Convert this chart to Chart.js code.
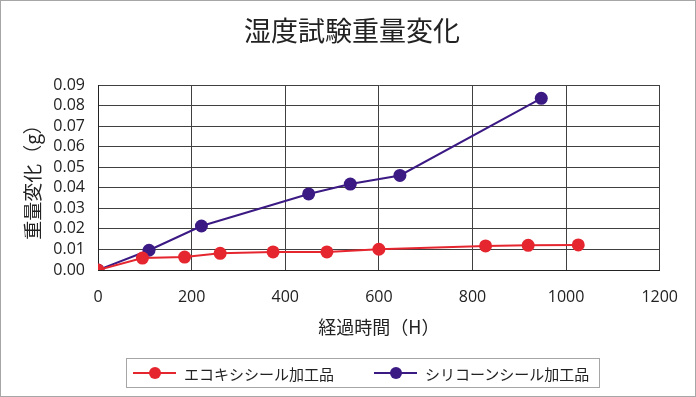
<!DOCTYPE html>
<html>
<head>
<meta charset="utf-8">
<script src="https://cdn.jsdelivr.net/npm/chart.js@4"></script>
<style>
  body { margin: 0; background: #fff; }
  #wrap { position: relative; width: 696px; height: 397px; }
  #frame { position: absolute; left: 0; top: 0; width: 694px; height: 395px; border: 1px solid #a6a6a6; pointer-events: none; }
  #legend {
    position: absolute; left: 126px; top: 358px; width: 474px; height: 30px;
    border: 1px solid #a6a6a6; box-sizing: border-box;
    font-family: "Noto Sans CJK JP", sans-serif; font-size: 15px; color: #222;
  }
  .item { position: absolute; top: 0; height: 28px; display: flex; align-items: center; white-space: nowrap; }
  .mark { position: relative; width: 43px; height: 2px; margin-right: 8px; }
  .mark i { position: absolute; left: 16px; top: -5px; width: 12px; height: 12px; border-radius: 50%; }
</style>
</head>
<body>
<div id="wrap">
  <canvas id="humidChart" width="696" height="397"></canvas>
  <div id="legend">
    <div class="item" style="left:6px"><span class="mark" style="background:#e5262f"><i style="background:#e5262f"></i></span>エコキシシール加工品</div>
    <div class="item" style="left:247px"><span class="mark" style="background:#3c1a84"><i style="background:#3c1a84"></i></span>シリコーンシール加工品</div>
  </div>
  <div id="frame"></div>
</div>
<script>
const seriesNames = ["エコキシシール加工品", "シリコーンシール加工品"]
const seriesColors = ["#e5262f", "#3c1a84"]

// elapsed hours / weight change (g)
const ecoHours = [0, 95, 185, 261, 374, 489, 600, 828, 919, 1026]
const ecoValues = [0, 0.0058, 0.0063, 0.0081, 0.0088, 0.0088, 0.0101, 0.0117, 0.012, 0.0122]
const siliconeHours = [0, 109, 221, 450, 539, 645, 947]
const siliconeValues = [0, 0.0096, 0.0214, 0.037, 0.0418, 0.046, 0.0835]

const xTicks = [0, 200, 400, 600, 800, 1000, 1200]
const yTicks = [0, 0.01, 0.02, 0.03, 0.04, 0.05, 0.06, 0.07, 0.08, 0.09]

const jpFont = "'Noto Sans CJK JP', sans-serif"
const numFont = "'Open Sans', 'Noto Sans CJK JP', sans-serif"

const toPoints = (xs, ys) => xs.map((x, i) => ({ x: x, y: ys[i] }))

// title is centred over the whole canvas, not the padded area
const centerTitle = {
    id: 'centerTitle',
    afterLayout(chart) {
        if (chart.titleBlock) {
            chart.titleBlock.left = 8
            chart.titleBlock.right = chart.width
        }
    }
}

const ctx = document.getElementById('humidChart').getContext('2d')
const humidChart = new Chart(ctx, {
    type: 'scatter',
    plugins: [centerTitle],
    data: {
        datasets: [
            { label: seriesNames[0], data: toPoints(ecoHours, ecoValues) },
            { label: seriesNames[1], data: toPoints(siliconeHours, siliconeValues) }
        ].map((ds, i) => ({
            ...ds,
            showLine: true,
            borderColor: seriesColors[i],
            backgroundColor: seriesColors[i],
            borderWidth: 2,
            pointRadius: 6.5,
            pointBorderWidth: 0
        }))
    },
    options: {
        responsive: false,
        animation: false,
        layout: { padding: { top: 0, left: 0, right: 36, bottom: 47 } },
        plugins: {
            legend: { display: false },
            tooltip: { enabled: false },
            title: {
                display: true,
                text: '湿度試験重量変化',
                color: '#222',
                font: { family: jpFont, size: 27, weight: 'normal' },
                padding: { top: 15, bottom: 37.6 }
            }
        },
        scales: {
            x: {
                type: 'linear',
                min: 0, max: 1200,
                afterBuildTicks: s => { s.ticks = xTicks.map(v => ({ value: v })) },
                afterFit: s => { s.height = 80 },
                grid: { color: '#404040', drawTicks: false },
                border: { color: '#222' },
                ticks: {
                    color: '#222', padding: 18, autoSkip: false, maxRotation: 0,
                    font: { family: numFont, size: 16 },
                    callback: v => String(v)
                },
                title: {
                    display: true, text: '経過時間（H）', color: '#222',
                    font: { family: jpFont, size: 18 }, padding: { top: 0, bottom: 12 }
                }
            },
            y: {
                min: 0, max: 0.09,
                afterBuildTicks: s => { s.ticks = yTicks.map(v => ({ value: v })) },
                afterFit: s => { s.width = 98 },
                grid: { color: '#404040', drawTicks: false },
                border: { color: '#222' },
                ticks: {
                    color: '#222', padding: 13, autoSkip: false,
                    font: { family: numFont, size: 16 },
                    callback: v => v.toFixed(2)
                },
                title: {
                    display: true, text: '重量変化（g）', color: '#222',
                    font: { family: jpFont, size: 19 }, padding: { top: 21, bottom: 0 }
                }
            }
        }
    }
})
</script>
</body>
</html>
